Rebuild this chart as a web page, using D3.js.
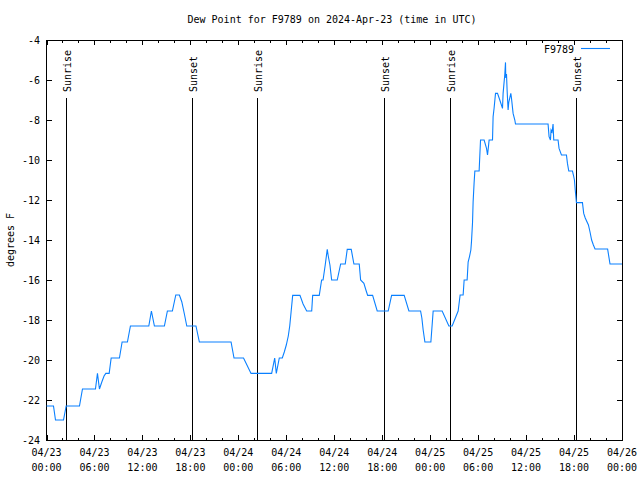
<!DOCTYPE html>
<html>
<head>
<meta charset="utf-8">
<script src="https://cdn.jsdelivr.net/npm/d3@7"></script>
<style>
html,body{margin:0;padding:0;background:#fff;}
svg{display:block;}
text{font-family:"DejaVu Sans Mono","Liberation Mono",monospace;font-size:10px;fill:#000;}
</style>
</head>
<body>
<svg id="chart" width="640" height="480"></svg>
<script>
// ---- data (hours after 2024-04-23 00:00 UTC, dew point °F) ----
const hours = [0,0.875,1.125,2.125,2.46,4.125,4.5,6.125,6.375,6.625,6.92,7.2,7.42,7.84,8.09,9.125,9.46,10.125,10.5,12.8,13.125,13.5,14.75,15.125,15.75,16.175,16.625,16.93,17.25,17.55,18.7,19.125,23.09,23.46,24.65,25.59,28.17,28.55,28.75,29.125,29.5,29.75,30,30.25,30.43,30.6,30.8,31.71,32.1,32.55,33.18,33.3,34.125,34.42,34.6,34.87,35.125,35.25,35.46,35.675,36.375,36.8,37.375,37.625,38.125,38.46,39.125,39.3,39.71,39.96,40.18,40.8,41.375,42.75,43.175,44.75,45.34,46.8,46.96,47.125,47.34,48.09,48.375,49.5,50.34,50.75,51.5,51.625,51.75,52.125,52.25,52.625,52.75,52.92,53.09,53.17,53.3,53.375,53.5,53.59,54.125,54.3,54.75,55.05,55.175,55.3,55.375,55.8,55.875,56,56.175,56.425,56.71,57.05,57.125,57.34,57.425,57.46,57.55,57.625,57.75,57.84,57.96,58.09,58.17,58.375,58.59,58.675,62.75,62.875,63.05,63.125,63.25,63.375,63.46,64,64.125,64.425,65.05,65.175,65.34,65.8,65.92,66.05,66.15,66.3,67.05,67.21,67.4,67.8,68,68.2,68.42,68.625,70.2,70.5,72];
const dewF = [-22.3,-22.3,-23.0,-23.0,-22.3,-22.3,-21.45,-21.45,-20.67,-21.45,-21.1,-20.8,-20.67,-20.67,-19.9,-19.9,-19.1,-19.1,-18.3,-18.3,-17.55,-18.3,-18.3,-17.55,-17.55,-16.75,-16.75,-17.1,-17.7,-18.3,-18.3,-19.1,-19.1,-19.9,-19.9,-20.67,-20.67,-19.9,-20.67,-19.9,-19.9,-19.6,-19.25,-18.8,-18.3,-17.6,-16.77,-16.77,-17.2,-17.55,-17.55,-16.77,-16.77,-16.0,-16.0,-15.25,-14.47,-14.8,-15.25,-16.0,-16.0,-15.2,-15.2,-14.47,-14.47,-15.2,-15.2,-16.0,-16.17,-16.5,-16.77,-16.77,-17.55,-17.55,-16.77,-16.77,-17.55,-17.55,-17.9,-18.5,-19.1,-19.1,-17.55,-17.55,-18.3,-18.3,-17.55,-17.15,-16.75,-16.75,-16.0,-16.0,-15.1,-14.83,-14.5,-14.08,-13.13,-12.08,-11.12,-10.55,-10.55,-9.0,-9.0,-9.42,-9.75,-9.3,-9.0,-9.0,-7.83,-7.4,-6.67,-6.67,-7.0,-7.42,-6.67,-5.7,-5.12,-5.9,-5.7,-6.5,-7.5,-7.1,-6.9,-6.67,-6.9,-7.67,-8.0,-8.2,-8.2,-8.83,-9.0,-8.5,-8.6,-8.2,-9.0,-9.0,-9.42,-9.75,-9.75,-10.17,-10.55,-10.55,-10.75,-11.0,-11.5,-12.13,-12.13,-12.67,-12.9,-13.25,-13.6,-14.0,-14.25,-14.45,-14.45,-15.2,-15.2];
const sunHours = [2.5,18.25,26.375,42.25,50.43,66.3];
const sunLabels = ["Sunrise","Sunset","Sunrise","Sunset","Sunrise","Sunset"];
const yTicks = [-24,-22,-20,-18,-16,-14,-12,-10,-8,-6,-4];
const seriesName = "F9789";
const titleText = "Dew Point for F9789 on 2024-Apr-23 (time in UTC)";
const yLabel = "degrees F";

// ---- layout ----
const L = 46.5, R = 622, T = 40, B = 440;
const t0 = Date.UTC(2024,3,23);
const toDate = h => new Date(t0 + h*3600e3);
const svg = d3.select("#chart");

const x = d3.scaleUtc().domain([toDate(0), toDate(72)]).range([L, R]);
const y = d3.scaleLinear().domain([-24,-4]).range([B, T]);

const majors = d3.utcHour.every(6).range(toDate(0), toDate(72.01));
const minors = d3.utcHour.every(2).range(toDate(0), toDate(72.01)).filter(d => d.getUTCHours() % 6 !== 0);

const g = svg.append("g").attr("shape-rendering","crispEdges");

function tickLines(vals, len, isX) {
  vals.forEach(v => {
    if (isX) {
      const px = Math.round(x(v)) + 0.5;
      g.append("line").attr("x1",px).attr("x2",px).attr("y1",B).attr("y2",B-len).attr("stroke","#000");
      g.append("line").attr("x1",px).attr("x2",px).attr("y1",T).attr("y2",T+len).attr("stroke","#000");
    } else {
      const py = Math.round(y(v)) + 0.5;
      g.append("line").attr("x1",L).attr("x2",L+len).attr("y1",py).attr("y2",py).attr("stroke","#000");
      g.append("line").attr("x1",R).attr("x2",R-len).attr("y1",py).attr("y2",py).attr("stroke","#000");
    }
  });
}
tickLines(majors, 5, true);
tickLines(minors, 2.5, true);
tickLines(yTicks, 5, false);

// x tick labels
const fmtD = d3.utcFormat("%m/%d"), fmtT = d3.utcFormat("%H:%M");
majors.forEach(d => {
  const px = x(d);
  svg.append("text").attr("x",px).attr("y",456).attr("text-anchor","middle").text(fmtD(d));
  svg.append("text").attr("x",px).attr("y",471).attr("text-anchor","middle").text(fmtT(d));
});
// y tick labels
yTicks.forEach(v => {
  svg.append("text").attr("x",40).attr("y",y(v)+4).attr("text-anchor","end").text(v);
});

// sunrise/sunset lines
sunHours.forEach((h,i) => {
  const px = Math.round(x(toDate(h))) + 0.5;
  g.append("line").attr("x1",px).attr("x2",px).attr("y1",B).attr("y2",98).attr("stroke","#000");
  svg.append("text").attr("transform",`translate(${px+4.5},92) rotate(-90)`).attr("text-anchor","start").text(sunLabels[i]);
});

// data line
const line = d3.line().x((d,i) => x(toDate(hours[i]))).y((d,i) => y(dewF[i]));
svg.append("path").datum(dewF).attr("d", line).attr("fill","none").attr("stroke","#0a80ff").attr("stroke-width",1.1);

// frame
g.append("rect").attr("x",L).attr("y",T+0.5).attr("width",R-L).attr("height",B-T).attr("fill","none").attr("stroke","#000");

// legend
svg.append("text").attr("x",574).attr("y",53).attr("text-anchor","end").text(seriesName);
svg.append("line").attr("x1",581).attr("x2",610).attr("y1",48.5).attr("y2",48.5).attr("stroke","#0a80ff").attr("stroke-width",1.1);

// title and y label
svg.append("text").attr("x",332).attr("y",23).attr("text-anchor","middle").text(titleText);
svg.append("text").attr("transform","translate(14,240) rotate(-90)").attr("text-anchor","middle").text(yLabel);
</script>
</body>
</html>
